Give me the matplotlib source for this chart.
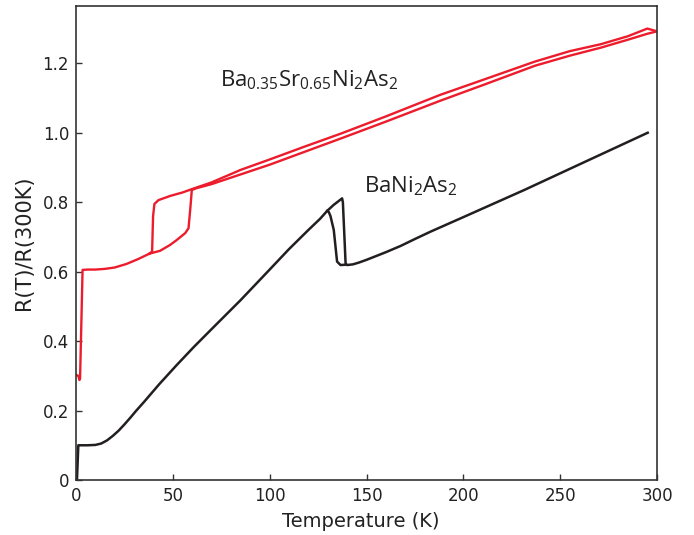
import numpy as np
import matplotlib
matplotlib.use('Agg')
import matplotlib.pyplot as plt

# Ba0.35Sr0.65Ni2As2 -- low temperature part shared by both sweeps
red_low_T = [0.3, 1.2, 1.8, 2.1, 3.4, 6, 10, 15, 20, 26, 32, 38]
red_low_R = [0.302, 0.300, 0.288, 0.292, 0.605, 0.606, 0.606, 0.608, 0.612, 0.622, 0.636, 0.652]

# sweep with the jump near 40 K
red_up_T = [38, 39.3, 39.8, 40.5, 42.6, 48.6, 55, 60, 70, 85, 100, 118, 137, 160, 188, 210,
            237, 255, 271, 285, 295, 300]
red_up_R = [0.652, 0.658, 0.760, 0.795, 0.806, 0.818, 0.828, 0.838, 0.857, 0.893, 0.923, 0.960,
            0.998, 1.047, 1.109, 1.152, 1.205, 1.235, 1.255, 1.278, 1.300, 1.292]

# sweep with the jump near 59 K
red_dn_T = [38, 43.4, 48.6, 52, 56.4, 58.1, 59.0, 59.8, 62, 70, 85, 100, 118, 137, 160, 188,
            210, 237, 255, 271, 285, 295, 300]
red_dn_R = [0.652, 0.660, 0.677, 0.691, 0.711, 0.725, 0.780, 0.835, 0.840, 0.852, 0.880, 0.908,
            0.945, 0.984, 1.032, 1.092, 1.137, 1.193, 1.222, 1.245, 1.268, 1.285, 1.292]

# BaNi2As2
blk_T = [0.5, 1.2, 3, 6, 10, 13, 16, 19, 22, 25, 28, 31, 35, 43, 52, 61, 71, 85, 100, 110,
         120, 126, 129.7, 133, 137.4, 137.8, 138.6, 139.2, 140, 143, 146, 150, 155, 160, 167.6,
         175, 183, 200, 231.4, 260, 295.2]
blk_R = [0.0, 0.100, 0.100, 0.100, 0.101, 0.105, 0.114, 0.127, 0.142, 0.160, 0.179, 0.199,
         0.224, 0.276, 0.331, 0.384, 0.440, 0.518, 0.606, 0.665, 0.720, 0.752, 0.775, 0.792,
         0.811, 0.800, 0.700, 0.624, 0.619, 0.621, 0.626, 0.634, 0.645, 0.656, 0.674, 0.694,
         0.715, 0.757, 0.835, 0.909, 1.000]

# other sweep of the structural transition
blk_b_T = [129.7, 130.5, 131.4, 133.1, 134.8, 136.6, 139.2]
blk_b_R = [0.775, 0.772, 0.760, 0.720, 0.629, 0.619, 0.620]

x_ticks = [0, 50, 100, 150, 200, 250, 300]
y_ticks = [0, 0.2, 0.4, 0.6, 0.8, 1.0, 1.2]
y_tick_labels = ['0', '0.2', '0.4', '0.6', '0.8', '1.0', '1.2']

RED = '#ec1c2c'
BLACK = '#231f20'

fig = plt.figure(figsize=(6.94, 5.35), dpi=100)
ax = fig.add_axes([0.1095, 0.1028, 0.8372, 0.886])

for t, r in [(red_low_T, red_low_R), (red_up_T, red_up_R), (red_dn_T, red_dn_R)]:
    ax.plot(t, r, color=RED, lw=1.7, solid_joinstyle='round')
ax.plot(blk_T, blk_R, color=BLACK, lw=1.8, solid_joinstyle='round')
ax.plot(blk_b_T, blk_b_R, color=BLACK, lw=1.8, solid_joinstyle='round')

ax.set_xlim(0, 300)
ax.set_ylim(0, 1.365)
ax.set_xticks(x_ticks)
ax.set_yticks(y_ticks)
ax.set_yticklabels(y_tick_labels)
ax.tick_params(direction='in', length=4, width=1, labelsize=12, pad=5, colors='#333333',
               labelcolor='#222222')

for sp in ax.spines.values():
    sp.set_linewidth(1.2)
    sp.set_color('#333333')

ax.set_xlabel('Temperature (K)', fontsize=14, color='#222222')
ax.xaxis.set_label_coords(0.49, -0.068)
ax.set_ylabel('R(T)/R(300K)', fontsize=15, color='#222222', labelpad=6)

ax.text(74.5, 1.133, r'Ba$\mathregular{_{0.35}}$Sr$\mathregular{_{0.65}}$Ni$\mathregular{_2}$As$\mathregular{_2}$',
        fontsize=16, family=['Open Sans', 'DejaVu Sans'], color='#222222', va='baseline')
ax.text(148.5, 0.829, r'BaNi$\mathregular{_2}$As$\mathregular{_2}$',
        fontsize=16, family=['Open Sans', 'DejaVu Sans'], color='#222222', va='baseline')

fig.savefig('out.png', dpi=100)
